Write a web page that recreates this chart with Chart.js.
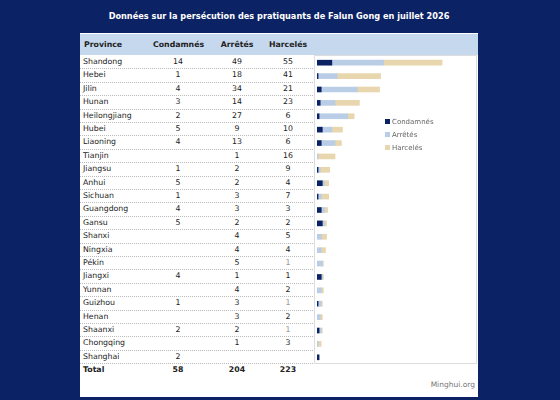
<!DOCTYPE html>
<html>
<head>
<meta charset="utf-8">
<script src="https://cdn.jsdelivr.net/npm/chart.js@4/dist/chart.umd.min.js"></script>
<style>
  body { margin: 0; width: 560px; height: 400px; background: #0b2265; font-family: "DejaVu Sans", sans-serif; overflow: hidden; }
  #panel { position: absolute; left: 80px; top: 0; width: 398px; height: 397px; background: #fff; }
  #title { position: absolute; left: 0; top: 0; width: 398px; height: 33px; background: #0b2265; color: #fff;
           font-weight: bold; font-size: 8.2px; text-align: center; line-height: 32px; }
  #head { position: absolute; left: 0; top: 34px; width: 398px; height: 21px; background: #c5d8ee; }
  .cell { position: absolute; font-size: 7.8px; color: #222; height: 13px; line-height: 12px; white-space: nowrap; }
  .row { position: absolute; left: 0; width: 233px; height: 13.4px; border-bottom: 1px dotted #bbb; box-sizing: border-box; }
  .hd { font-weight: bold; line-height: 21px; height: 21px; font-size: 7.8px; }
  #box { position: absolute; left: 234px; top: 55px; width: 163px; height: 309px; border: 1px solid #ddd; box-sizing: border-box; }
  #chartWrap { position: absolute; left: 237px; top: 56px; width: 159px; height: 308px; }
  #legend { position: absolute; left: 305px; top: 116px; font-size: 7px; color: #666; }
  #legend div { height: 13px; line-height: 13px; }
  #legend span { display: inline-block; width: 5px; height: 5px; margin-right: 2px; }
  #src { position: absolute; right: 3px; top: 380px; font-size: 7.5px; color: #777; }
</style>
</head>
<body>
<div id="panel">
  <div id="title">Données sur la persécution des pratiquants de Falun Gong en juillet 2026</div>
  <div id="head"></div>
  <div id="rows"></div>
  <div id="box"></div>
  <div id="chartWrap"><canvas id="chart"></canvas></div>
  <div id="legend"></div>
  <div id="src">Minghui.org</div>
</div>
<script>
const provinces = ['Shandong', 'Hebei', 'Jilin', 'Hunan', 'Heilongjiang', 'Hubei', 'Liaoning', 'Tianjin',
  'Jiangsu', 'Anhui', 'Sichuan', 'Guangdong', 'Gansu', 'Shanxi', 'Ningxia', 'Pékin', 'Jiangxi', 'Yunnan',
  'Guizhou', 'Henan', 'Shaanxi', 'Chongqing', 'Shanghai'];
const condamnes = [14, 1, 4, 3, 2, 5, 4, null, 1, 5, 1, 4, 5, null, null, null, 4, null, 1, null, 2, null, 2];
const arretes = [49, 18, 34, 14, 27, 9, 13, 1, 2, 2, 3, 3, 2, 4, 4, 5, 1, 4, 3, 3, 2, 1, null];
const harceles = [55, 41, 21, 23, 6, 10, 6, 16, 9, 4, 7, 3, 2, 5, 4, 1, 1, 2, 1, 2, 1, 3, null];
const greyCells = ['Pékin', 'Guizhou', 'Shaanxi']; // Harcelés values shown in grey
const totals = [58, 204, 223];
const seriesNames = ['Condamnés', 'Arrêtés', 'Harcelés'];
const colors = ['#0b2265', '#b9cde6', '#e8d6ae'];

// table text
const rows = document.getElementById('rows');
const colX = [98, 157, 208]; // centers relative to panel
function addCell(text, left, top, opts) {
  const d = document.createElement('div');
  d.className = 'cell' + (opts.hd ? ' hd' : '');
  d.textContent = text;
  if (opts.center) { d.style.left = (left - 25) + 'px'; d.style.width = '50px'; d.style.textAlign = 'center'; }
  else d.style.left = left + 'px';
  d.style.top = top + 'px';
  if (opts.bold) d.style.fontWeight = 'bold';
  if (opts.color) d.style.color = opts.color;
  rows.appendChild(d);
}
addCell('Province', 4, 34, { hd: true });
seriesNames.forEach((n, i) => addCell(n, colX[i], 34, { hd: true, center: true }));
const rowH = 13.4, top0 = 56;
provinces.forEach((p, r) => {
  const y = top0 + r * rowH;
  const line = document.createElement('div');
  line.className = 'row';
  line.style.top = y + 'px';
  rows.appendChild(line);
  addCell(p, 3, y, {});
  [condamnes, arretes, harceles].forEach((s, i) => {
    if (s[r] != null) addCell(String(s[r]), colX[i], y, { center: true, color: (i == 2 && greyCells.includes(p)) ? '#999' : null });
  });
});
const ty = top0 + provinces.length * rowH;
addCell('Total', 3, ty, { bold: true });
totals.forEach((t, i) => addCell(String(t), colX[i], ty, { bold: true, center: true }));

// legend
const lg = document.getElementById('legend');
seriesNames.forEach((n, i) => {
  const d = document.createElement('div');
  d.innerHTML = '<span style="background:' + colors[i] + '"></span>' + n;
  lg.appendChild(d);
});

new Chart(document.getElementById('chart'), {
  type: 'bar',
  data: {
    labels: provinces,
    datasets: [condamnes, arretes, harceles].map((s, i) => ({
      label: seriesNames[i],
      data: s,
      backgroundColor: colors[i],
      barThickness: 5
    }))
  },
  options: {
    indexAxis: 'y',
    responsive: true,
    maintainAspectRatio: false,
    animation: false,
    layout: { padding: { left: 0, right: 0, top: 0, bottom: 0 } },
    plugins: { legend: { display: false }, tooltip: { enabled: false } },
    scales: {
      x: { stacked: true, display: false, min: 0, max: 150 },
      y: { stacked: true, display: false }
    }
  }
});
</script>
</body>
</html>
